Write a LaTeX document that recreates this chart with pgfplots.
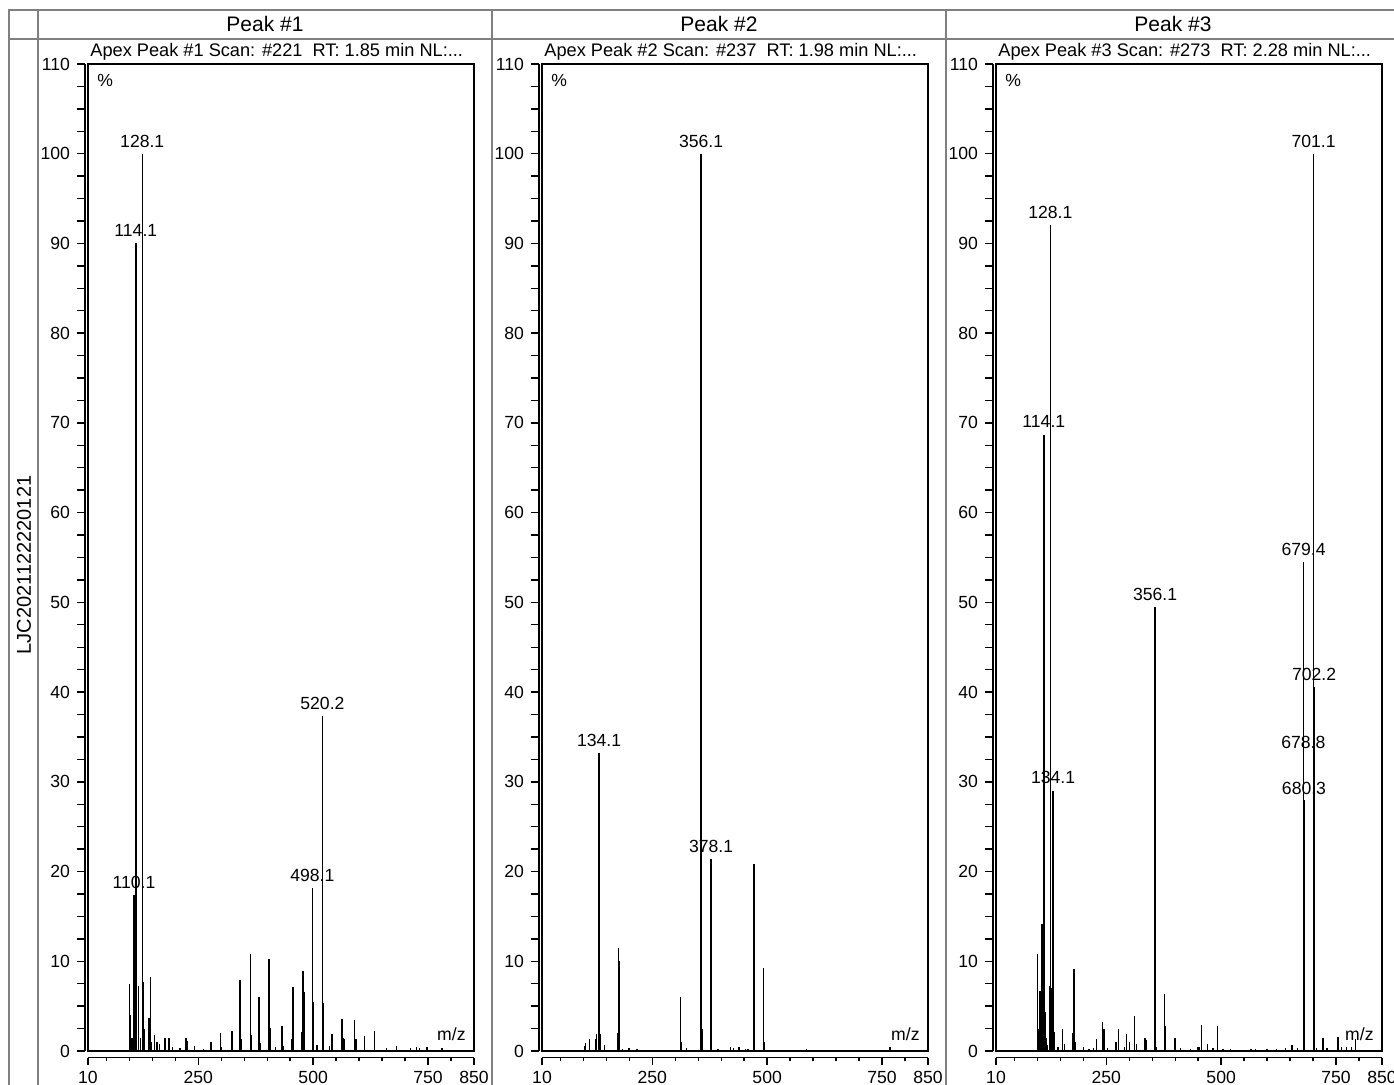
\documentclass[border=0pt]{standalone}
\usepackage{fontspec}
\setmainfont{Liberation Sans}
\usepackage{pgfplots}
\usepackage{pgfplotstable}
\pgfplotsset{compat=1.18}

% spectra: m/z, relative intensity (%)
\pgfplotstableread{
mz int
100.7 7.5
101.5 4.0
103 2.8
106 1.5
110.1 17.4
112 7.0
114.1 90
116 3
119.6 7.2
124 1.5
128.1 100
130 7.7
132 2.5
143 3.7
145.7 8.3
148 1.0
155 1.8
160 1.0
166 0.8
178 1.4
186 1.5
194 0.5
210 0.3
223 1.4
227 1.1
242 0.6
262 0.2
278 1.0
298 2.0
300 0.5
323 2.2
341 7.9
343 1.3
363 10.8
365 1.8
382 6.0
384 0.9
404 10.2
406 2.6
418 0.4
432 2.8
436 0.6
454 1.3
456 7.1
475 2.1
478 8.9
480 6.6
498.1 18.2
500 5.5
508 0.7
520.2 37.3
521.5 5.3
536 0.6
541 1.9
563 3.6
565 1.4
568 1.3
590.5 3.5
593 1.3
612 1.7
634 2.2
660 0.3
681 0.6
712 0.3
725 0.4
731 0.3
748 0.4
780 0.3
}\specA

\pgfplotstableread{
mz int lab
128.1 100 128.1
114.1 90 114.1
110.1 17.4 110.1
520.2 37.3 520.2
498.1 18.2 498.1
}\labA

\pgfplotstableread{
mz int
102 0.6
105 0.9
113 1.3
126 1.3
129 1.9
134.1 33.2
136 1.9
146 0.7
174 2.0
177 11.5
179 10.0
185 0.2
199 0.3
217 0.2
311 6.0
312.5 1.0
324 0.3
356.1 100
358 2.5
378.1 21.4
393 0.2
420 0.4
427 0.3
439 0.5
453 0.2
458 0.2
471 20.8
473 5.0
492.4 9.2
494 1.0
585 0.2
767 0.5
}\specB

\pgfplotstableread{
mz int lab
356.1 100 356.1
134.1 33.2 134.1
378.1 21.4 378.1
}\labB

\pgfplotstableread{
mz int
100.5 10.8
102.5 2.5
105.6 6.7
110 14.2
114.1 68.7
116.5 4.3
119 1.5
121 0.7
126 7.2
128.1 92
130 7.0
134.1 29
136 2.1
145 0.5
155 2.4
159 0.8
176.5 2.0
179.5 9.1
182 1.0
200 0.4
212 0.2
222 0.3
229 1.3
242 3.2
245 2.5
253 0.3
271 1.0
276 2.5
290 0.5
294 1.9
301 1.0
312 3.9
316 0.8
334 1.4
337 1.2
356.1 49.5
359 0.4
377 6.3
379 2.8
399.6 1.4
411 0.3
433 0.2
450 0.5
453 0.5
457 2.9
470 0.8
482 0.3
492 2.8
504 0.2
520 0.2
565 0.2
575 0.2
600 0.2
621 0.2
640 0.3
654 0.7
666 0.3
678.8 33
679.4 54.5
680.3 28
682 1.3
701.1 100
702.2 40.6
703.2 8.6
707 0.3
722 1.5
730 0.3
754 1.6
762 0.4
773 0.5
784 0.5
792 1.3
}\specC

\pgfplotstableread{
mz int lab
128.1 92 128.1
114.1 68.8 114.1
134.1 29.1 134.1
356.1 49.5 356.1
679.4 54.5 679.4
702.2 40.6 702.2
678.8 33.0 678.8
680.3 27.8 680.3
701.1 100 701.1
}\labC

\tikzset{tlfont/.style={font=\fontsize{8.8}{10}\selectfont}}
\pgfplotsset{
  specbox/.style={
    scale only axis, anchor=south west,
    width=193pt, height=493.5pt,
    xmin=10, xmax=850, ymin=0, ymax=110,
    ticks=none, clip=false,
    axis line style={line width=0.7pt},
  },
  yax/.style={
    scale only axis, anchor=south west,
    width=1pt, height=493.5pt,
    xmin=0, xmax=1, ymin=0, ymax=110,
    hide x axis, axis y line=left,
    y axis line style={-, line width=0.7pt},
    ytick={0,10,...,110}, minor y tick num=3,
    tick align=outside, major tick length=4pt, minor tick length=4pt,
    tick style={line width=0.7pt, black},
    yticklabel style={tlfont},
    /pgf/number format/assume math mode=true,
  },
  xax/.style={
    scale only axis, anchor=south west,
    width=193pt, height=1pt,
    xmin=10, xmax=850, ymin=0, ymax=1,
    hide y axis, axis x line=bottom,
    x axis line style={-, line width=0.7pt},
    xtick={10,250,500,750,850}, minor xtick={50,100,...,800},
    tick align=outside, major tick length=3.5pt, minor tick length=1.8pt,
    tick style={line width=0.7pt, black},
    xticklabel style={tlfont},
    /pgf/number format/assume math mode=true,
  },
}

% #1 left of box, #2 title, #3 spectrum, #4 labels
\newcommand{\panel}[4]{%
  \begin{axis}[yax, at={(#1-1.5pt,17pt)}]
  \end{axis}
  \begin{axis}[xax, at={(#1,13.7pt)}]
  \end{axis}
  \begin{axis}[specbox, at={(#1,17pt)}]
    \addplot[ycomb, mark=none, black, line width=0.7pt] table[x=mz, y=int] {#3};
    \addplot[draw=none, mark=none, nodes near coords, point meta=explicit symbolic,
      nodes near coords style={tlfont, anchor=base, inner sep=0pt, yshift=3.3pt}]
      table[x=mz, y=int, meta=lab] {#4};
    \node[tlfont, anchor=north west, inner sep=0pt] at (rel axis cs:0,1) [xshift=4.5pt, yshift=-5pt] {\%};
    \node[tlfont, anchor=base east, inner sep=0pt] at (rel axis cs:1,0) [xshift=-4pt, yshift=5pt] {m/z};
    \node[font=\fontsize{9.1}{10}\selectfont, anchor=base west, inner sep=0pt] at (rel axis cs:0,1) [xshift=1pt, yshift=3.8pt] {#2};
  \end{axis}
}

\begin{document}
\begin{tikzpicture}
\useasboundingbox (0,0) rectangle (697pt,542.5pt);
% table frame
\begin{scope}[draw=black!50, line width=1pt]
  \draw (4.5pt,-5pt) -- (4.5pt,537.5pt) -- (710pt,537.5pt);
  \draw (4.5pt,523pt) -- (710pt,523pt);
  \draw (19pt,-5pt) -- (19pt,537.5pt);
  \draw (246pt,-5pt) -- (246pt,537.5pt);
  \draw (473pt,-5pt) -- (473pt,537.5pt);
\end{scope}
\node[font=\fontsize{10.5}{12}\selectfont, anchor=base] at (132.5pt,526.8pt) {Peak \#1};
\node[font=\fontsize{10.5}{12}\selectfont, anchor=base] at (359.5pt,526.8pt) {Peak \#2};
\node[font=\fontsize{10.5}{12}\selectfont, anchor=base] at (586.5pt,526.8pt) {Peak \#3};
\node[font=\fontsize{10}{12}\selectfont, rotate=90] at (12pt,260pt) {LJC2021122220121};

\panel{44pt}{Apex Peak \#1 Scan: \#221\ \ RT: 1.85 min NL:...}{\specA}{\labA}
\panel{271pt}{Apex Peak \#2 Scan: \#237\ \ RT: 1.98 min NL:...}{\specB}{\labB}
\panel{498pt}{Apex Peak \#3 Scan: \#273\ \ RT: 2.28 min NL:...}{\specC}{\labC}
\end{tikzpicture}
\end{document}
